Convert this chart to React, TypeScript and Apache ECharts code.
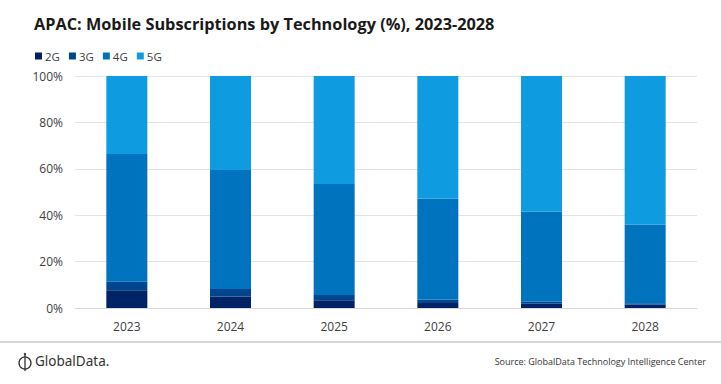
import React, { useEffect, useRef } from "react";
import * as echarts from "echarts";

const categories = ["2023", "2024", "2025", "2026", "2027", "2028"];
const seriesNames = ["2G", "3G", "4G", "5G"];
const g2 = [7.6, 5.0, 3.3, 2.2, 1.8, 1.5];
const g3 = [3.7, 3.2, 2.3, 1.5, 0.9, 0.5];
const g4 = [55.1, 51.3, 47.8, 43.5, 38.9, 34.0];
const g5 = [33.6, 40.5, 46.6, 52.8, 58.4, 64.0];
const colors = ["#002366", "#00468f", "#0073be", "#0f9be0"];
const yTicks = [0, 20, 40, 60, 80, 100];

export default function App() {
  const ref = useRef<HTMLDivElement>(null);
  useEffect(() => {
    if (!ref.current) return;
    const chart = echarts.init(ref.current, null, { renderer: "svg" });
    const values = [g2, g3, g4, g5];
    chart.setOption({
      animation: false,
      backgroundColor: "#ffffff",
      title: {
        text: "APAC: Mobile Subscriptions by Technology (%), 2023-2028",
        left: 29,
        top: 11,
        textStyle: { fontFamily: "Open Sans", fontSize: 16.3, fontWeight: "bold", color: "#1a1a1a" },
      },
      legend: {
        left: 30,
        top: 45,
        itemWidth: 7,
        itemHeight: 7,
        itemGap: 9,
        icon: "rect",
        textStyle: { fontFamily: "Open Sans", fontSize: 11.5, color: "#404040", padding: [0, 0, 0, -2] },
        data: seriesNames,
      },
      grid: { left: 75, right: 24, top: 76, bottom: 76 },
      xAxis: {
        type: "category",
        data: categories,
        axisLine: { lineStyle: { color: "#d9d9d9" } },
        axisTick: { show: false },
        axisLabel: { fontFamily: "Open Sans", fontSize: 12, color: "#404040", margin: 12 },
      },
      yAxis: {
        type: "value",
        min: 0,
        max: 100,
        interval: 20,
        axisLabel: {
          fontFamily: "Open Sans",
          fontSize: 12,
          color: "#404040",
          margin: 12,
          formatter: (v: number) => (yTicks.includes(v) ? v + "%" : ""),
        },
        splitLine: { lineStyle: { color: "#e3e3e3" } },
        axisLine: { show: false },
        axisTick: { show: false },
      },
      series: seriesNames.map((name, i) => ({
        name,
        type: "bar",
        stack: "total",
        barWidth: 41,
        data: values[i],
        itemStyle: { color: colors[i] },
      })),
      graphic: [
        { type: "line", shape: { x1: 0, y1: 342, x2: 721, y2: 342 }, style: { stroke: "#c8c8c8", lineWidth: 1.5 } },
        { type: "circle", shape: { cx: 25, cy: 363, r: 6 }, style: { fill: "none", stroke: "#333", lineWidth: 1.3 } },
        { type: "line", shape: { x1: 25, y1: 355, x2: 25, y2: 371 }, style: { stroke: "#333", lineWidth: 1.3 } },
        { type: "circle", shape: { cx: 25, cy: 354, r: 1.2 }, style: { fill: "#333" } },
        {
          type: "text",
          left: 35,
          top: 354,
          style: { text: "GlobalData.", font: "13.5px 'Noto Sans'", fill: "#333" },
        },
        {
          type: "text",
          right: 15,
          top: 357,
          style: { text: "Source: GlobalData Technology Intelligence Center", font: "9px 'Open Sans'", fill: "#333" },
        },
      ],
    });
    return () => chart.dispose();
  }, []);
  return <div ref={ref} style={{ position: "fixed", left: 0, top: 0, width: 721, height: 384 }} />;
}
